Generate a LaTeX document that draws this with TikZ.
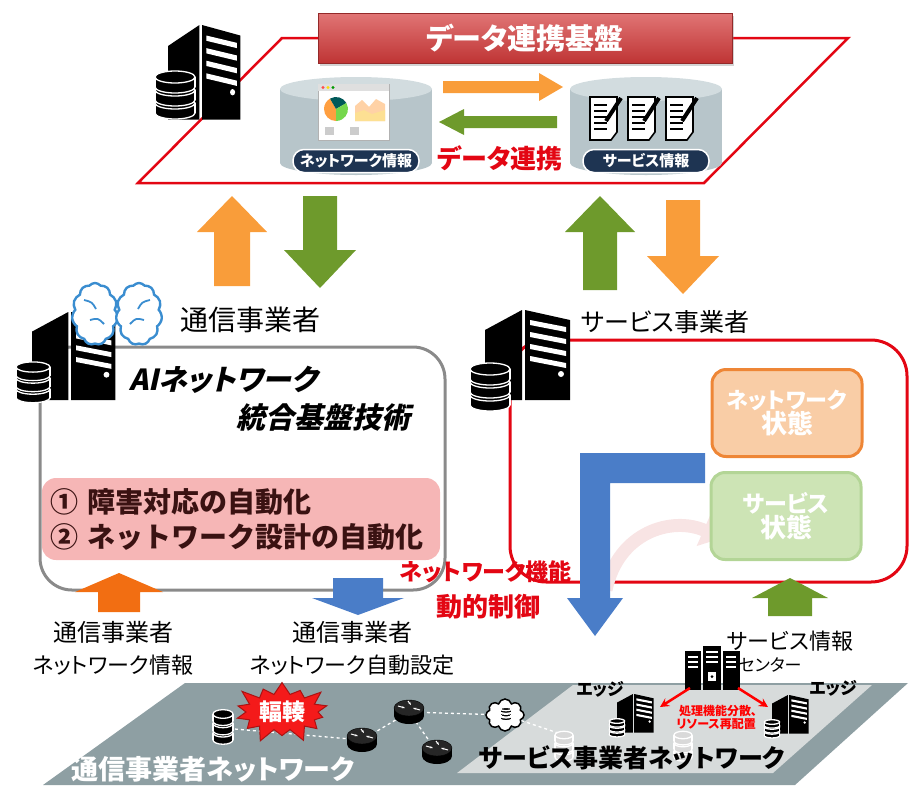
\documentclass[tikz,border=0pt]{standalone}
\usepackage{fontspec}
\newfontfamily\jp{Noto Sans CJK JP}[RawFeature=+palt]
\newfontfamily\jpfull{Noto Sans CJK JP}
\newfontfamily\jpslant{Noto Sans CJK JP}[RawFeature=+palt, FakeSlant=0.22]
\usetikzlibrary{shapes.symbols, arrows.meta, shadows}

\definecolor{linkred}{HTML}{E30613}
\definecolor{barred}{HTML}{D43A3A}
\definecolor{dbgray}{HTML}{B7C5CA}
\definecolor{dbtop}{HTML}{D2DCDF}
\definecolor{navy}{HTML}{1E3452}
\definecolor{syncorange}{HTML}{F99D3A}
\definecolor{syncgreen}{HTML}{6E9A2C}
\definecolor{infoorange}{HTML}{F26E12}
\definecolor{ctrlblue}{HTML}{4A7DC8}
\definecolor{boxgray}{HTML}{8A8A8A}
\definecolor{taskpink}{HTML}{F6B6B6}
\definecolor{taskink}{HTML}{3A1212}
\definecolor{brainblue}{HTML}{3A8DD0}
\definecolor{stateor}{HTML}{EE8636}
\definecolor{stateorfill}{HTML}{F9CDA6}
\definecolor{stategr}{HTML}{B3D596}
\definecolor{stategrfill}{HTML}{CDE4B5}
\definecolor{netdark}{HTML}{8E9FA3}
\definecolor{netlight}{HTML}{D7DBDB}
\definecolor{burst}{HTML}{F41A1A}
\definecolor{haze}{HTML}{F8E4E4}

\tikzset{
  pics/fatarrow/.style args={#1/#2/#3/#4}{code={
    \fill (0,-#2) -- ({#1-#4},-#2) -- ({#1-#4},-#3) -- (#1,0) -- ({#1-#4},#3) -- ({#1-#4},#2) -- (0,#2) -- cycle;
  }},
  pics/tower/.style={code={
    \fill (0,20) -- (37,0) -- (37,90) -- (0,90) -- cycle;
    \fill (40,0) -- (85,10) -- (85,90) -- (40,90) -- cycle;
    \foreach \s in {10,22,34,46}
      \fill[white] (45,\s) -- (81,\s+7) -- (81,\s+12) -- (45,\s+5) -- cycle;
    \fill[white] (76,64) circle [radius=3];
  }},
  pics/dbstack/.style={code={
    \foreach \t in {26,13,0} {
      \filldraw[fill=#1, draw=white, line width=1.3] (0,\t+10) ellipse [x radius=20, y radius=6];
      \fill[#1] (-20,\t) rectangle (20,\t+10);
      \draw[white, line width=1.3] (-20,\t) -- (-20,\t+10) (20,\t) -- (20,\t+10);
      \filldraw[fill=#1, draw=white, line width=1.3] (0,\t) ellipse [x radius=20, y radius=6];
    }
  }},
  pics/dbstack/.default=black,
  pics/memo/.style={code={
    \filldraw[fill=white, draw=black, line width=1.6] (0,0) -- (27,0) -- (27,35) -- (21,43) -- (0,43) -- cycle;
    \foreach \l in {8,14,20,26,32} \draw[line width=2.2] (4,\l) -- (17,\l);
    \draw[line width=4] (16,24) -- (31,1);
  }},
  pics/router/.style={code={
    \fill (0,4) ellipse [x radius=15, y radius=8];
    \fill (-15,-4) rectangle (15,4);
    \filldraw[fill=black!85, draw=black] (0,-4) ellipse [x radius=15, y radius=8];
    \draw[white, line width=1, -{Stealth[length=3pt]}] (-11,-6) -- (-4,-4);
    \draw[white, line width=1, -{Stealth[length=3pt]}] (11,-2) -- (4,-4);
    \draw[white, line width=1, -{Stealth[length=3pt]}] (-1,-11) -- (2,-7);
  }}
}

\begin{document}
\begin{tikzpicture}[x=1pt, y=-1pt, font=\jp,
    titlebar/.style={draw=barred!70!black, line width=1pt, top color=barred!70!white, bottom color=barred!90!black,
      minimum width=414pt, minimum height=50pt, text=white, font=\jp\bfseries\fontsize{29}{31}\selectfont,
      drop shadow={opacity=0.35, shadow xshift=2pt, shadow yshift=-3pt}},
    pill/.style={fill=navy, draw=white, line width=1.5pt, rounded corners=11pt, minimum width=126pt, minimum height=23pt,
      inner sep=0pt, text=white, font=\jp\bfseries\fontsize{15}{17}\selectfont},
    statebox/.style={rounded corners=14pt, line width=3pt, minimum width=150pt, minimum height=87pt, align=center,
      text=white, font=\jp\bfseries},
    brainhalf/.style={cloud, cloud puffs=11, cloud puff arc=100, aspect=0.75, draw=brainblue, line width=2.4pt,
      fill=white, minimum width=46pt, minimum height=62pt},
    netlink/.style={white, dashed, line width=1.3pt},
    redarr/.style={red, line width=2.5pt, -{Stealth[length=9pt, width=9pt]}}]
\useasboundingbox (0,0) rectangle (910,785);

% data platform
\draw[linkred, line width=2.5pt] (138,183) -- (282,38) -- (848,38) -- (704,183) -- cycle;
\node (platform) at (525,38) [titlebar] {データ連携基盤};
\foreach \cx in {356,646} {
  \fill[dbgray] (\cx,163) ellipse [x radius=76, y radius=12];
  \fill[dbgray] (\cx-76,89) rectangle (\cx+76,163);
  \fill[dbtop] (\cx,89) ellipse [x radius=76, y radius=12];
}
\filldraw[fill=white, draw=gray!60] (318,84) rectangle (389,140);
\fill[gray!25] (318,84) rectangle (389,91);
\fill[red!70] (323,87.5) circle [radius=1.6];
\fill[yellow!80!orange] (328,87.5) circle [radius=1.6];
\fill[green!60!black] (333,87.5) circle [radius=1.6];
\fill[orange!75] (336,109) -- +(90:12) arc [start angle=90, end angle=240, radius=12] -- cycle;
\fill[teal!70!black] (336,109) -- +(240:12) arc [start angle=240, end angle=330, radius=12] -- cycle;
\fill[green!55!olive!70] (336,109) -- +(330:12) arc [start angle=330, end angle=450, radius=12] -- cycle;
\fill[orange!35] (355,121) -- (355,106) -- (362,100) -- (369,107) -- (376,99) -- (385,104) -- (385,121) -- cycle;
\fill[yellow!45!orange!40] (355,121) -- (355,113) -- (364,110) -- (372,114) -- (385,110) -- (385,121) -- cycle;
\fill[gray!40] (325,127) rectangle (334,135);
\fill[gray!40] (350,127) rectangle (359,135);
\foreach \dx in {590,628,666} \pic at (\dx,97) {memo};
\node (netinfo) at (356,161) [pill] {ネットワーク情報};
\node (svcinfo) at (646,161) [pill] {サービス情報};
\pic[fill=syncorange] at (443,87) {fatarrow=120/6/14/24};
\pic[fill=syncgreen, rotate=180] at (557,122) {fatarrow=118/6/13/25};
\node (sync) at (500,158) [text=linkred, font=\jp\bfseries\fontsize{26}{28}\selectfont] {データ連携};
\pic[xscale=0.85, yscale=1.05] at (168,25) {tower};
\pic at (175,77) {dbstack};

\pic[fill=syncorange, rotate=90] at (232,286) {fatarrow=90/18/35/36};
\pic[fill=syncgreen, rotate=-90] at (320,196) {fatarrow=92/17/36/38};
\pic[fill=syncgreen, rotate=90] at (600,290) {fatarrow=94/17/35/36};
\pic[fill=syncorange, rotate=-90] at (683,200) {fatarrow=94/17/36/38};

% telecom operator
\node (aibox) at (242.5,468.5) [draw=boxgray, line width=3pt, rounded corners=32pt, minimum width=405pt, minimum height=243pt] {};
\node (tasks) at (241,519) [fill=taskpink, rounded corners=14pt, minimum width=398pt, minimum height=82pt, text width=382pt,
  align=left, inner sep=0pt, text=taskink, font=\jpfull\bfseries\fontsize{28}{35}\selectfont]
  {① 障害対応の自動化\\② ネットワーク設計の自動化};
\node (ainame) at (223,380) [font=\jpslant\bfseries\fontsize{29}{31}\selectfont] {AIネットワーク};
\node (ainame2) at (323,418) [font=\jpslant\bfseries\fontsize{29}{31}\selectfont] {統合基盤技術};
\pic[scale=0.98] at (32,312) {tower};
\pic[scale=0.85] at (33,367) {dbstack};
\node (brainL) at (95,314) [brainhalf] {};
\node (brainR) at (139,314) [brainhalf] {};
\draw[brainblue, line width=1.8pt] (84,300) .. controls (92,302) .. (96,309) (90,320) .. controls (98,318) .. (104,324)
  (150,300) .. controls (142,302) .. (138,309) (144,320) .. controls (136,318) .. (130,324);
\node (telco) at (250,320) [font=\jp\fontsize{28}{30}\selectfont] {通信事業者};

% service provider
\node (svcbox) at (708.5,461) [draw=linkred, line width=3pt, rounded corners=36pt, minimum width=397pt, minimum height=242pt] {};
\draw[haze, line width=13pt, -{Triangle[length=20pt, width=34pt]}] (606,590) .. controls (618,532) and (672,516) .. (722,538);
\node (netstate) at (787,413) [statebox, draw=stateor, fill=stateorfill]
  {\fontsize{22}{28}\selectfont ネットワーク\\\fontsize{26}{30}\selectfont 状態};
\node (svcstate) at (786,516) [statebox, draw=stategr, fill=stategrfill]
  {\fontsize{23}{28}\selectfont サービス\\\fontsize{26}{30}\selectfont 状態};
\fill[ctrlblue] (705,453) -- (580,453) -- (580,598) -- (567,598) -- (595,636) -- (623,598) -- (610,598)
  -- (610,483) -- (705,483) -- cycle;
\node (ctrl) at (486,572) [text=linkred, font=\jp\bfseries\fontsize{23}{25}\selectfont] {ネットワーク機能};
\node (ctrl2) at (488,607) [text=linkred, font=\jp\bfseries\fontsize{26}{28}\selectfont] {動的制御};
\pic at (485,310) {tower};
\pic at (490,369) {dbstack};
\node (svcop) at (665,322) [font=\jp\fontsize{25}{27}\selectfont] {サービス事業者};
\pic[fill=syncgreen, rotate=90] at (790,616) {fatarrow=38/22/38/20};

\pic[fill=infoorange, rotate=90] at (119,612) {fatarrow=39/21/44/19};
\pic[fill=ctrlblue, rotate=-90] at (358,578) {fatarrow=37/25/46/17};
\node (nwinfo1) at (113,632) [font=\jp\fontsize{24}{26}\selectfont] {通信事業者};
\node (nwinfo2) at (113,665) [font=\jp\fontsize{22}{24}\selectfont] {ネットワーク情報};
\node (nwset1) at (352,632) [font=\jp\fontsize{24}{26}\selectfont] {通信事業者};
\node (nwset2) at (352,665) [font=\jp\fontsize{22}{24}\selectfont] {ネットワーク自動設定};

% networks
\fill[netdark] (185,683) -- (908,683) -- (795,785) -- (43,785) -- cycle;
\fill[netlight] (573,685) -- (872,685) -- (773,773) -- (457,773) -- cycle;
\coordinate (bdb) at (223,728);
\coordinate (r1) at (362,740);
\coordinate (r2) at (409,712);
\coordinate (r3) at (437,752);
\coordinate (ldb1) at (564,735);
\coordinate (ldb2) at (683,735);
\node (cloudnet) at (505,715) [cloud, cloud puffs=8, draw, line width=1.5pt, fill=white, minimum width=38pt, minimum height=32pt] {};
\draw[netlink] (bdb) -- (r1);
\draw[netlink] (r1) -- (r2);
\draw[netlink] (r2) -- (r3);
\draw[netlink] (r2) -- (cloudnet);
\draw[netlink] (cloudnet) -- (ldb1);
\pic[scale=0.28] at (506,709) {dbstack};
\pic[xscale=0.5, yscale=0.72] at (223,714) {dbstack};
\pic[xscale=0.45, yscale=0.62] at (ldb1) {dbstack=gray!30};
\pic[xscale=0.45, yscale=0.62] at (ldb2) {dbstack=gray!30};
\pic at (r1) {router};
\pic at (r2) {router};
\pic at (r3) {router};
\node (jam) at (282,712) [starburst, starburst points=14, starburst point height=16pt, fill=burst, draw=burst!70!black,
  line width=1pt, minimum width=104pt, minimum height=68pt, inner sep=0pt, text=white,
  font=\jp\bfseries\fontsize{23}{25}\selectfont] {輻輳};

\pic[scale=0.43] at (617,694) {tower};
\pic[scale=0.38] at (617,721) {dbstack};
\pic[scale=0.43] at (772,695) {tower};
\pic[scale=0.38] at (772,722) {dbstack};
\node (edge1) at (600,689) [font=\jp\bfseries\fontsize{17}{19}\selectfont] {エッジ};
\node (edge2) at (833,688) [font=\jp\bfseries\fontsize{17}{19}\selectfont] {エッジ};
\fill (685,651) rectangle (701,690);
\fill (703,646) rectangle (721,690);
\fill (723,651) rectangle (740,690);
\foreach \x in {688,726} \foreach \y in {656,661,666} \fill[white] (\x,\y) rectangle (\x+10,\y+2.2);
\foreach \y in {651,656,661} \fill[white] (706,\y) rectangle (718,\y+2.2);
\fill[white] (708,672) rectangle (716,681);
\fill (712,676.5) circle [radius=1.5];
\node (center1) at (790,641) [font=\jp\fontsize{22}{24}\selectfont] {サービス情報};
\node (center2) at (770,665) [font=\jp\fontsize{17}{19}\selectfont] {センター};
\coordinate (dcL) at (690,688);
\coordinate (edgeL) at (660,707);
\coordinate (dcR) at (738,688);
\coordinate (edgeR) at (768,707);
\draw[redarr] (dcL) -- (edgeL);
\draw[redarr] (dcR) -- (edgeR);
\node (move1) at (718,711) [text=red, font=\jp\bfseries\fontsize{12}{13}\selectfont] {処理機能分散、};
\node (move2) at (716,724) [text=red, font=\jp\bfseries\fontsize{12}{13}\selectfont] {リソース再配置};
\node (telconet) at (213,769) [text=white, font=\jp\bfseries\fontsize{27}{29}\selectfont] {通信事業者ネットワーク};
\node (svcnet) at (632,758) [font=\jp\bfseries\fontsize{25}{27}\selectfont] {サービス事業者ネットワーク};
\end{tikzpicture}
\end{document}
